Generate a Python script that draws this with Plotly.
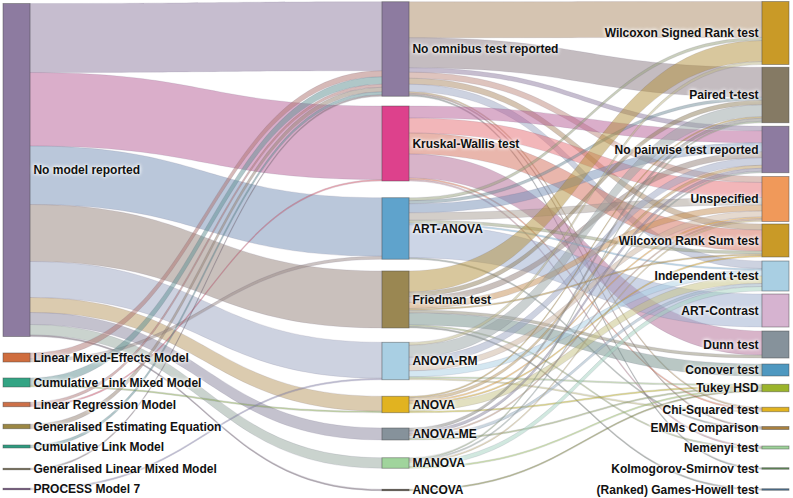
import plotly.graph_objects as go

# ---------------- data ----------------
models = ["No model reported", "Linear Mixed-Effects Model", "Cumulative Link Mixed Model",
          "Linear Regression Model", "Generalised Estimating Equation", "Cumulative Link Model",
          "Generalised Linear Mixed Model", "PROCESS Model 7"]
omnibus = ["No omnibus test reported", "Kruskal-Wallis test", "ART-ANOVA", "Friedman test",
           "ANOVA-RM", "ANOVA", "ANOVA-ME", "MANOVA", "ANCOVA"]
pairwise = ["Wilcoxon Signed Rank test", "Paired t-test", "No pairwise test reported", "Unspecified",
            "Wilcoxon Rank Sum test", "Independent t-test", "ART-Contrast", "Dunn test", "Conover test",
            "Tukey HSD", "Chi-Squared test", "EMMs Comparison", "Nemenyi test",
            "Kolmogorov-Smirnov test", "(Ranked) Games-Howell test"]

# rows: models, cols: omnibus tests
model_to_omnibus = [
    [46, 49, 39, 38, 24, 10, 8, 7, 1],
    [4, 0, 2, 0, 0, 0, 0, 0, 0],
    [5, 0, 0, 0, 0, 1, 0, 0, 0],
    [2, 1, 0, 0, 0, 0, 0, 0, 0],
    [3, 0, 0, 0, 0, 0, 0, 0, 0],
    [2, 0, 0, 0, 0, 0, 0, 0, 0],
    [1, 0, 0, 0, 0, 0, 0, 0, 0],
    [0, 0, 0, 0, 1, 0, 0, 0, 0],
]
# rows: omnibus tests, cols: pairwise tests
omnibus_to_pairwise = [
    [24, 20, 3, 4, 4, 5, 0, 0, 0, 0, 1, 1, 0, 1, 0],
    [0, 0, 8, 10, 14, 0, 0, 16, 0, 0, 1, 0, 1, 0, 0],
    [2, 2, 6, 5, 2, 1, 22, 0, 0, 0, 0, 1, 0, 0, 0],
    [14, 3, 4, 4, 1, 0, 0, 2, 8, 0, 0, 0, 1, 0, 1],
    [2, 8, 5, 4, 0, 4, 0, 0, 0, 1, 1, 0, 0, 0, 0],
    [0, 1, 2, 1, 1, 5, 0, 0, 0, 1, 0, 0, 0, 0, 0],
    [0, 2, 2, 1, 0, 2, 0, 0, 0, 1, 0, 0, 0, 0, 0],
    [0, 1, 1, 1, 0, 3, 0, 0, 0, 1, 0, 0, 0, 0, 0],
    [0, 0, 0, 0, 0, 0, 0, 0, 0, 1, 0, 0, 0, 0, 0],
]

# ---------------- styles / layout ----------------
model_colors = ["#8d7ba0", "#cf6d3e", "#33a484", "#cd7048", "#9b8743", "#2f9c80", "#6e6342", "#6a3f78"]
omnibus_colors = ["#8d7ba0", "#dd418c", "#5fa3cc", "#9a8752", "#a9cfe3", "#e1b320", "#86929b", "#a0d49c", "#4a3f33"]
pairwise_colors = ["#c99a27", "#857a64", "#8d7ba0", "#f0995a", "#c99a27", "#a9cfe3", "#d6b3d0", "#86929b",
                   "#4e98c0", "#9bb42b", "#e1b320", "#a8803f", "#9fd39b", "#5f8a55", "#4a6f8f"]

col_x = [0.01718, 0.49936, 0.98282]
model_y = [0.3429, 0.7255, 0.7765, 0.8214, 0.8663, 0.9071, 0.9531, 0.9939]
omnibus_y = [0.0959, 0.2888, 0.4622, 0.6071, 0.7327, 0.8214, 0.8816, 0.9408, 0.9959]
pairwise_y = [0.0633, 0.1898, 0.3010, 0.4020, 0.4867, 0.5592, 0.6296, 0.6990, 0.7510,
              0.7878, 0.8316, 0.8694, 0.9092, 0.9520, 0.9949]

labels = models + omnibus + pairwise
node_colors = model_colors + omnibus_colors + pairwise_colors
node_x = [col_x[0]] * len(models) + [col_x[1]] * len(omnibus) + [col_x[2]] * len(pairwise)
node_y = model_y + omnibus_y + pairwise_y


def rgb(h):
    h = h.lstrip("#")
    return tuple(int(h[i:i + 2], 16) for i in (0, 2, 4))


def mix(c1, c2, a):
    r1, r2 = rgb(c1), rgb(c2)
    m = [round((x + y) / 2) for x, y in zip(r1, r2)]
    return f"rgba({m[0]},{m[1]},{m[2]},{a})"


src, tgt, val, lcol = [], [], [], []
off_o = len(models)
off_p = len(models) + len(omnibus)
for i, row in enumerate(model_to_omnibus):
    for j, v in enumerate(row):
        if v:
            src.append(i); tgt.append(off_o + j); val.append(v)
            lcol.append(mix(model_colors[i], omnibus_colors[j], 0.5))
for i, row in enumerate(omnibus_to_pairwise):
    for j, v in enumerate(row):
        if v:
            src.append(off_o + i); tgt.append(off_p + j); val.append(v)
            lcol.append(mix(omnibus_colors[i], pairwise_colors[j], 0.5))

fig = go.Figure(go.Sankey(
    arrangement="fixed",
    node=dict(label=labels, color=node_colors, x=node_x, y=node_y,
              pad=8.86, thickness=27,
              line=dict(color="rgba(70,70,70,0.55)", width=0.8)),
    link=dict(source=src, target=tgt, value=val, color=lcol,
              line=dict(color="rgba(90,80,110,0.25)", width=0.5)),
    textfont=dict(family="Liberation Sans, Arial, sans-serif", size=12, color="#111", weight="bold",
                  shadow="0px 0px 4px rgba(255,255,255,0.85), 0px 0px 4px rgba(255,255,255,0.85), 0px 0px 3px rgba(255,255,255,0.85)"),
))
fig.update_layout(width=793, height=498, margin=dict(l=3, r=4, t=2, b=6),
                  paper_bgcolor="white", plot_bgcolor="white")
fig.write_html("out.html", config={"displayModeBar": False},
               post_script="document.body.style.margin='0';document.body.style.overflow='hidden';")
